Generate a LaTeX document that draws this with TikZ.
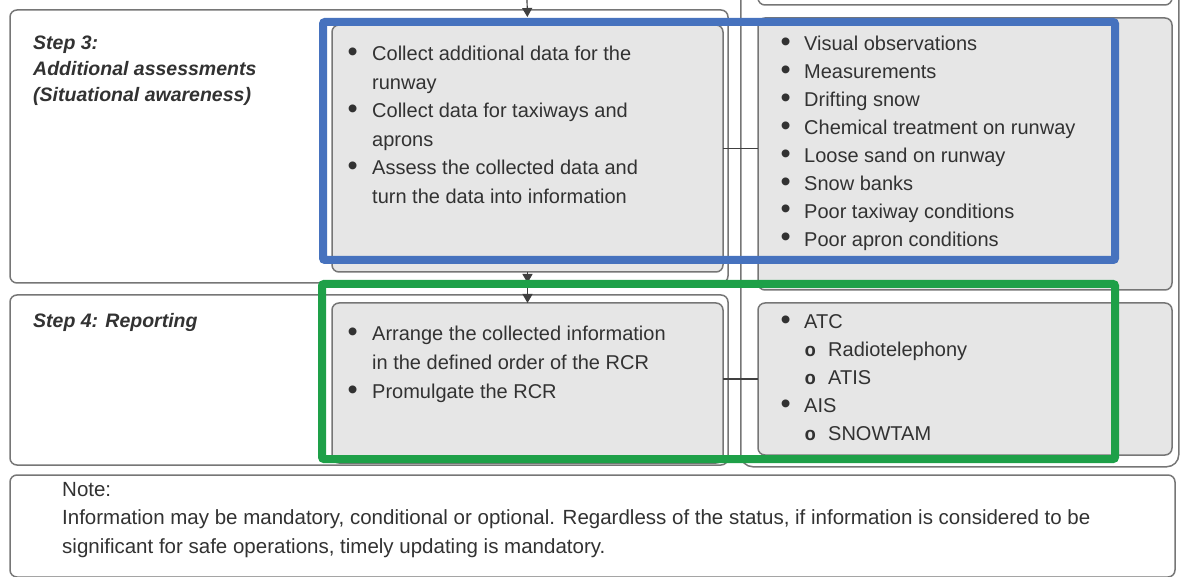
\documentclass[tikz,border=0pt]{standalone}
\usepackage{fontspec}
\setmainfont{Liberation Sans}
\newfontfamily\monof{Liberation Mono}
\usetikzlibrary{arrows.meta}
\definecolor{boxgray}{RGB}{230,230,230}
\definecolor{edgegray}{RGB}{118,118,118}
\definecolor{txt}{RGB}{50,50,50}
\definecolor{hlblue}{RGB}{70,114,190}
\definecolor{hlgreen}{RGB}{30,160,72}
\newcommand\mydot{\raisebox{-0.6pt}{\scalebox{1.45}{•}}}
\newcommand\mybulm{\makebox[23.5pt][l]{\hspace*{-1pt}\mydot}}
\newcommand\mybulr{\makebox[22.5pt][l]{\hspace*{-1pt}\mydot}}
\newcommand\mysubr{\hspace*{23pt}\makebox[23.5pt][l]{\monof\bfseries\fontsize{19}{19}\selectfont o}}
\begin{document}
\begin{tikzpicture}[x=1pt,y=-1pt,
  rowbox/.style={draw=edgegray,line width=1.5pt,fill=white,rounded corners=7pt,anchor=north west,inner sep=0pt,outer sep=0pt},
  graybox/.style={rowbox,fill=boxgray},
  body/.style={anchor=base west,inner sep=0pt,text=txt},
  steplbl/.style={anchor=base west,inner sep=0pt,text=txt,font=\fontsize{19.5}{26}\selectfont\bfseries\itshape},
  conn/.style={draw=black!75,line width=1.2pt},
  tip/.style={-{Triangle[length=9pt,width=10pt]}},
  hl/.style={draw=#1,line width=8pt,anchor=north west,inner sep=0pt,outer sep=0pt,rounded corners=2pt}
]
\useasboundingbox (0,0) rectangle (1181,577);

% right column container and previous box
\node[draw=edgegray,line width=1.5pt,rounded corners=12pt,anchor=north west,inner sep=0pt,minimum width=438pt,minimum height=490pt] (rcol) at (740,-24) {};
\node[rowbox,minimum width=414pt,minimum height=65pt] (right2) at (758,-60) {};

% rows
\node[rowbox,minimum width=718pt,minimum height=273pt] (row3) at (10,10) {};
\node[rowbox,minimum width=718pt,minimum height=170pt] (row4) at (10,295) {};

% gray boxes
\node[graybox,minimum width=391pt,minimum height=247pt] (mid3) at (332,25) {};
\node[graybox,minimum width=414pt,minimum height=272pt] (right3) at (758,18) {};
\node[graybox,minimum width=391pt,minimum height=160pt] (mid4) at (332,303) {};
\node[graybox,minimum width=414pt,minimum height=152pt] (right4) at (758,303) {};

% note
\node[rowbox,minimum width=1165pt,minimum height=102pt] (note) at (10,475) {};

% connectors
\coordinate (in3) at (527,-2);
\draw[conn,tip,shorten >=8pt] (in3) -- (mid3.north);
\draw[conn,tip] (mid3.south) -- (mid3.south |- row3.south);
\draw[conn,tip] (mid3.south |- row3.south) -- (mid4.north);
\draw[conn] (mid3.east) -- (mid3.east -| right3.west);
\draw[conn] (right4.west -| mid4.east) -- (right4.west);

% labels
\node[steplbl] (l3) at (33,50) {\begin{tabular}[t]{@{}l@{}}Step 3:\\Additional assessments\\(Situational awareness)\end{tabular}};
\node[steplbl] (l4) at (33,328) {Step 4: Reporting};

\node[body,font=\fontsize{20}{28.5}\selectfont] (t3) at (348.5,61) {\begin{tabular}[t]{@{}l@{}}
\mybulm Collect additional data for the\\
\hspace*{23.5pt}runway\\
\mybulm Collect data for taxiways and\\
\hspace*{23.5pt}aprons\\
\mybulm Assess the collected data and\\
\hspace*{23.5pt}turn the data into information
\end{tabular}};

\node[body,font=\fontsize{20}{27.9}\selectfont] (r3) at (781.5,51) {\begin{tabular}[t]{@{}l@{}}
\mybulr Visual observations\\
\mybulr Measurements\\
\mybulr Drifting snow\\
\mybulr Chemical treatment on runway\\
\mybulr Loose sand on runway\\
\mybulr Snow banks\\
\mybulr Poor taxiway conditions\\
\mybulr Poor apron conditions
\end{tabular}};

\node[body,font=\fontsize{20}{29}\selectfont] (t4) at (348.5,341) {\begin{tabular}[t]{@{}l@{}}
\mybulm Arrange the collected information\\
\hspace*{23.5pt}in the defined order of the RCR\\
\mybulm Promulgate the RCR
\end{tabular}};

\node[body,font=\fontsize{20}{28}\selectfont] (r4) at (781.5,329) {\begin{tabular}[t]{@{}l@{}}
\mybulr ATC\\
\mysubr Radiotelephony\\
\mysubr ATIS\\
\mybulr AIS\\
\mysubr SNOWTAM
\end{tabular}};

\node[body,font=\fontsize{20.5}{28.5}\selectfont] (nt) at (62,496) {\begin{tabular}[t]{@{}l@{}}
Note:\\
Information may be mandatory, conditional or optional. Regardless of the status, if information is considered to be\\
significant for safe operations, timely updating is mandatory.
\end{tabular}};

% highlight frames
\node[hl=hlblue,minimum width=792pt,minimum height=238pt] (hlA) at (323,22) {};
\node[hl=hlgreen,minimum width=793pt,minimum height=175pt] (hlB) at (322,284) {};
\end{tikzpicture}
\end{document}
